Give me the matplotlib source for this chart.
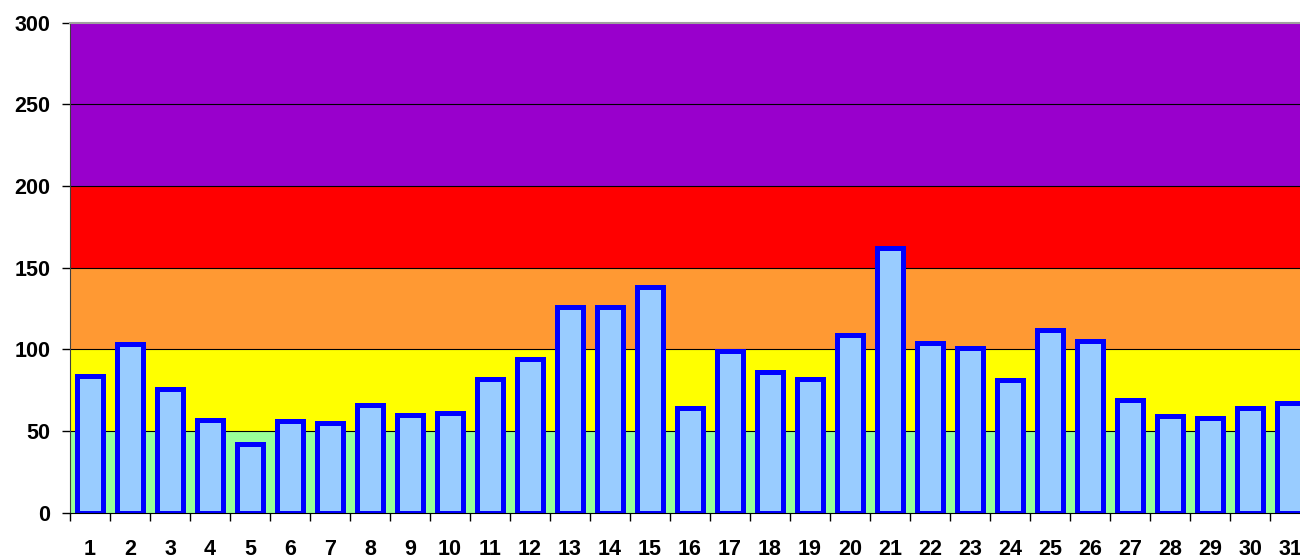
import numpy as np
import matplotlib.pyplot as plt

plt.rcParams['font.family'] = ['Liberation Sans', 'DejaVu Sans']

days = list(range(1, 32))
values = [84, 103, 76, 57, 42, 56, 55, 66, 60, 61, 82, 94, 126, 126, 138, 64,
          99, 86, 82, 109, 162, 104, 101, 81, 112, 105, 69, 59, 58, 64, 67]

band_edges = [0, 50, 100, 150, 200, 300]
band_colors = ['#99ff99', '#ffff00', '#ff9933', '#ff0000', '#9900cc']
y_ticks = [0, 50, 100, 150, 200, 250, 300]

W, H = 1300, 558
fig = plt.figure(figsize=(W / 100, H / 100), dpi=100)
ax = fig.add_axes([70 / W, (H - 512.7) / H, 1240 / W, 490 / H])

for lo, hi, c in zip(band_edges[:-1], band_edges[1:], band_colors):
    ax.axhspan(lo, hi, color=c, zorder=0, lw=0)
for y in y_ticks[1:-1]:
    ax.axhline(y, color='black', lw=0.8, zorder=1)

ax.bar(days, values, width=0.63, color='#99ccff', edgecolor='#0000ff',
       linewidth=3.6, zorder=2)

ax.set_xlim(0.5, 31.5)
ax.set_ylim(0, 300)
ax.set_yticks(y_ticks)
ax.set_yticklabels([str(v) for v in y_ticks], fontsize=15.5, fontweight='bold')

ax.set_xticks(np.arange(0.5, 32, 1))
ax.set_xticklabels([])
ax.set_xticks(days, minor=True)
ax.set_xticklabels([str(d) for d in days], minor=True, fontsize=15.5, fontweight='bold')
ax.tick_params(axis='x', which='major', direction='out', length=6, width=1)
ax.tick_params(axis='x', which='minor', length=0, pad=19)
ax.tick_params(axis='y', direction='out', length=6, width=1, pad=8)

ax.spines['right'].set_visible(False)
ax.spines['top'].set_color('#a0a0a0')
ax.spines['top'].set_linewidth(1.5)
ax.spines['left'].set_color('#404040')
ax.spines['bottom'].set_color('black')

fig.savefig('out.png', dpi=100)
